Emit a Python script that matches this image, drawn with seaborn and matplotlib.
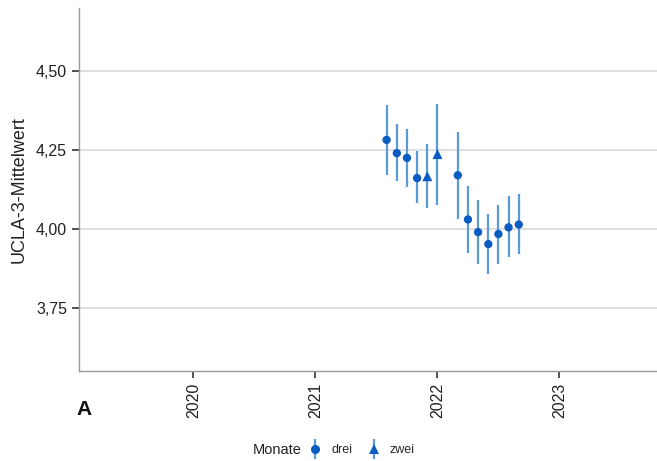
import matplotlib
matplotlib.use("Agg")
import matplotlib.pyplot as plt
from matplotlib.lines import Line2D
from matplotlib.legend_handler import HandlerTuple
import seaborn as sns
import pandas as pd

# Survey waves (decimal year), UCLA-3 means and 95% intervals
year = [2021.583, 2021.667, 2021.750, 2021.833, 2021.917, 2022.000, 2022.167,
        2022.250, 2022.333, 2022.417, 2022.500, 2022.583, 2022.667]
mean = [4.282, 4.240, 4.225, 4.161, 4.167, 4.237, 4.170,
        4.030, 3.990, 3.952, 3.984, 4.005, 4.014]
lower = [4.170, 4.151, 4.132, 4.081, 4.065, 4.075, 4.033,
         3.925, 3.890, 3.857, 3.890, 3.911, 3.920]
upper = [4.393, 4.333, 4.317, 4.247, 4.269, 4.396, 4.307,
         4.135, 4.092, 4.046, 4.075, 4.104, 4.110]
interval = ["drei", "drei", "drei", "drei", "zwei", "zwei", "drei",
            "drei", "drei", "drei", "drei", "drei", "drei"]

year_ticks = [2020, 2021, 2022, 2023]
y_ticks = [3.75, 4.00, 4.25, 4.50]

df = pd.DataFrame({"Jahr": year, "Mittelwert": mean, "lo": lower,
                   "hi": upper, "Monate": interval})

sns.set_theme(style="white")
plt.rcParams["font.family"] = ["Liberation Sans", "DejaVu Sans"]

point_col = "#0a5cc2"
bar_col = "#5b9ad8"

fig = plt.figure(figsize=(6.57, 4.61), dpi=100)
ax = fig.add_axes([0.120, 0.195, 0.880, 0.788])

for y in y_ticks:
    ax.axhline(y, color="#d9d9d9", lw=1.2, zorder=0)

ax.vlines(df["Jahr"], df["lo"], df["hi"], color=bar_col, lw=1.6, zorder=2)
sns.scatterplot(data=df[df["Monate"] == "drei"], x="Jahr", y="Mittelwert",
                marker="o", color=point_col, s=36, edgecolor="none",
                legend=False, ax=ax, zorder=3)
sns.scatterplot(data=df[df["Monate"] == "zwei"], x="Jahr", y="Mittelwert",
                marker="^", color=point_col, s=52, edgecolor="none",
                legend=False, ax=ax, zorder=3)

ax.set_xlim(2019.06, 2023.8)
ax.set_ylim(3.55, 4.70)
ax.set_xticks(year_ticks)
ax.set_xticklabels([str(t) for t in year_ticks], rotation=90)
ax.set_yticks(y_ticks)
ax.set_yticklabels([f"{t:.2f}".replace(".", ",") for t in y_ticks])
ax.set_xlabel("")
ax.set_ylabel("UCLA-3-Mittelwert", fontsize=13, color="#222222", labelpad=6)
ax.tick_params(axis="both", labelsize=11.5, colors="#333333", length=5,
               width=1.2, direction="out", bottom=True, left=True)
ax.tick_params(axis="both", which="major", labelcolor="#222222")

for side in ["top", "right"]:
    ax.spines[side].set_visible(False)
for side in ["left", "bottom"]:
    ax.spines[side].set_color("#999999")
    ax.spines[side].set_linewidth(1.0)

fig.text(0.117, 0.112, "A", fontsize=15, fontweight="bold", ha="left",
         va="center", color="#111111")

# Legend: marker over a vertical interval line
def key(marker, size):
    return (Line2D([], [], color=bar_col, marker="|", markersize=14,
                   markeredgewidth=1.6, linestyle="none"),
            Line2D([], [], color=point_col, marker=marker, markersize=size,
                   markeredgewidth=0, linestyle="none"))

fig.text(0.384, 0.023, "Monate", fontsize=10.5, ha="left", va="center",
         color="#222222")
fig.legend([key("o", 6.5), key("^", 7.5)], ["drei", "zwei"],
           handler_map={tuple: HandlerTuple(ndivide=1, pad=0)},
           loc="center left", bbox_to_anchor=(0.470, 0.023), ncol=2,
           frameon=False, fontsize=9, handlelength=1.0, handletextpad=0.8,
           columnspacing=1.2, borderpad=0, borderaxespad=0)

fig.savefig("out.png", dpi=100, facecolor="white")
